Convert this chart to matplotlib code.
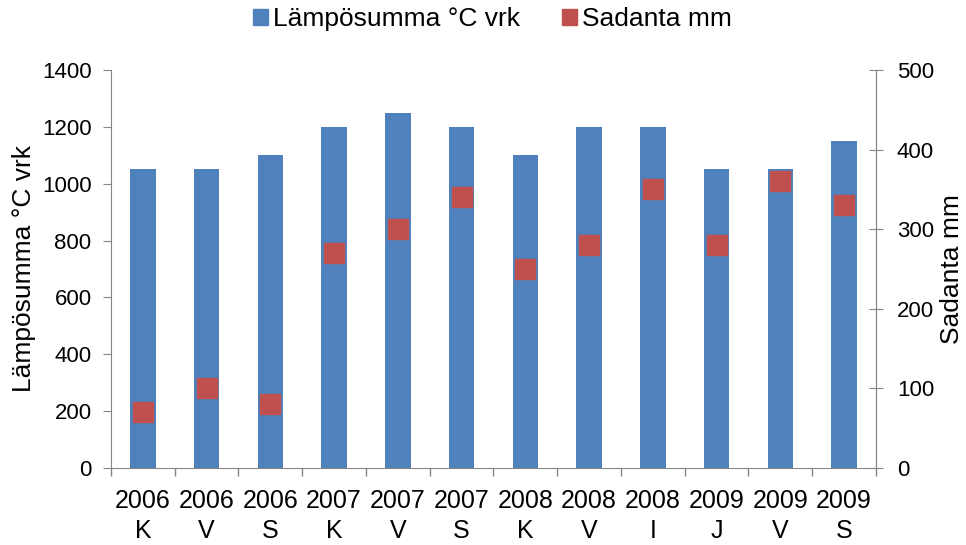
import matplotlib
matplotlib.use("Agg")
from matplotlib import pyplot as plt
from matplotlib.patches import Patch
import numpy as np

plt.rcParams["font.family"] = ["Liberation Sans", "DejaVu Sans"]

years = ["2006", "2006", "2006", "2007", "2007", "2007",
         "2008", "2008", "2008", "2009", "2009", "2009"]
codes = ["K", "V", "S", "K", "V", "S", "K", "V", "I", "J", "V", "S"]
lampo = [1050, 1050, 1100, 1200, 1250, 1200, 1100, 1200, 1200, 1050, 1050, 1150]
sadanta = [70, 100, 80, 270, 300, 340, 250, 280, 350, 280, 360, 330]

blue = "#4F81BD"
red = "#C0504D"
grey = "#868686"

fig = plt.figure(figsize=(9.66, 5.45), dpi=100)
ax = fig.add_axes([0.1149, 0.1413, 0.7919, 0.7303])
ax2 = ax.twinx()

x = np.arange(len(lampo))
ax.bar(x, lampo, width=0.4, color=blue, zorder=2)
ax2.plot(x, sadanta, linestyle="none", marker="s", markersize=14.5,
         color=red, zorder=3)

ax.set_xlim(-0.5, len(lampo) - 0.5)
ax.set_ylim(0, 1400)
ax.set_yticks(range(0, 1401, 200))
ax2.set_ylim(0, 500)
ax2.set_yticks(range(0, 501, 100))

ax.set_xticks(x)
ax.set_xticklabels([f"{y}\n{c}" for y, c in zip(years, codes)], fontsize=18,
                   linespacing=1.3)
ax.set_xticks(np.arange(-0.5, len(lampo)), minor=True)
ax.tick_params(axis="x", which="major", length=0, pad=15)
ax.tick_params(axis="x", which="minor", length=6, color=grey, width=1)
ax.tick_params(axis="y", length=6, color=grey, labelsize=16, pad=8)
ax2.tick_params(axis="y", direction="inout", length=10, color=grey,
                labelsize=16, pad=10)

for a in (ax, ax2):
    a.spines["top"].set_visible(False)
    for s in ("left", "right", "bottom"):
        a.spines[s].set_color(grey)
ax2.spines["left"].set_visible(False)
ax2.spines["bottom"].set_visible(False)

ax.set_ylabel("Lämpösumma °C vrk", fontsize=19, labelpad=4)
ax2.set_ylabel("Sadanta mm", fontsize=19, labelpad=4)

handles = [Patch(color=blue), Patch(color=red)]
fig.legend(handles, ["Lämpösumma °C vrk", "Sadanta mm"], loc="upper center",
           bbox_to_anchor=(0.51, 1.03), ncol=2, frameon=False, fontsize=19,
           handlelength=0.55, handleheight=0.55, handletextpad=0.2,
           columnspacing=1.6)

fig.savefig("out.png", dpi=100)
